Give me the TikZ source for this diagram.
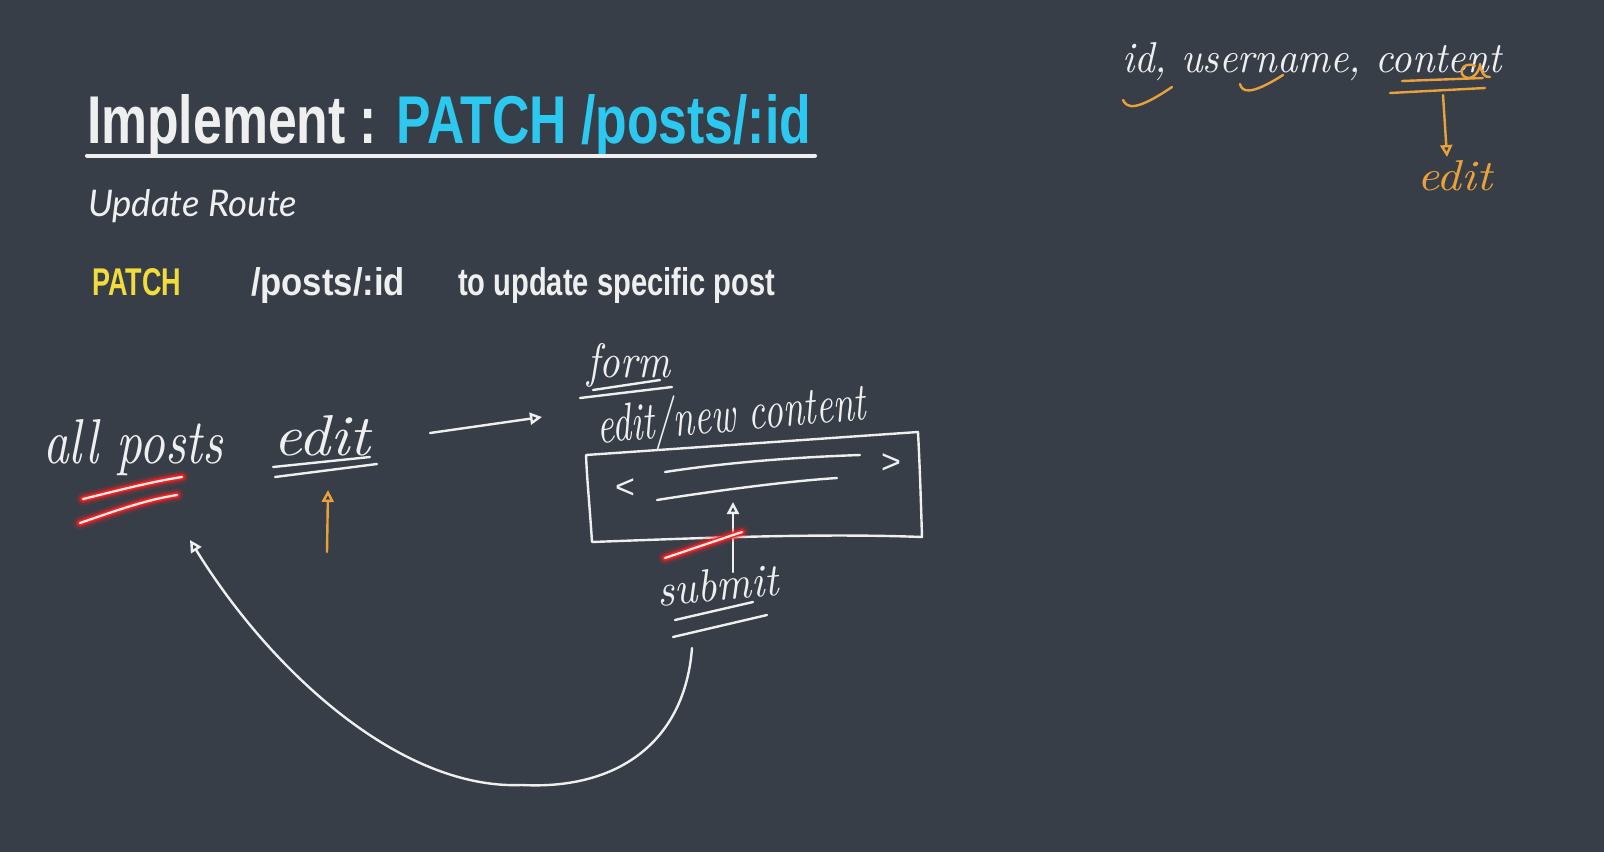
\documentclass[tikz,border=0pt]{standalone}
\usepackage{fontspec}
\usepackage{graphicx}
\usetikzlibrary{arrows.meta}

\newfontfamily\headfont{Liberation Sans}
\newfontfamily\subfont{Lato}

\definecolor{slate}{HTML}{373E48}
\definecolor{chalk}{HTML}{EFEFEF}
\definecolor{titlecyan}{HTML}{2CC8F0}
\definecolor{verbyellow}{HTML}{F2DC3C}
\definecolor{penorange}{HTML}{E9A23B}
\definecolor{glowred}{HTML}{FF1E1E}

% scale a piece of text to an exact width and height (in pt)
\newcommand{\fitbox}[3]{\resizebox{#1pt}{#2pt}{#3}}

% red highlighter stroke: soft red halo with a white core
\newcommand{\glowstroke}[1]{%
  \draw[glowred, line width=13pt, opacity=0.18, line cap=round] #1;
  \draw[glowred, line width=8pt, opacity=0.45, line cap=round] #1;
  \draw[glowred, line width=5pt, line cap=round] #1;
  \draw[chalk, line width=2.2pt, line cap=round] #1;}

\begin{document}
\begin{tikzpicture}[x=1pt, y=-1pt,
  pen/.style={draw=chalk, line width=2.4pt, line cap=round, line join=round},
  orangepen/.style={pen, draw=penorange},
  opentip/.style={-{Triangle[open, length=12pt, width=12pt]}},
  hand/.style={inner sep=0pt, outer sep=0pt, anchor=base west, text=chalk, font=\itshape},
  typed/.style={inner sep=0pt, outer sep=0pt, anchor=base west, text=chalk},
  chevron/.style={inner sep=0pt, outer sep=0pt, text=chalk, font=\headfont\fontsize{34}{34}\selectfont}]

% canvas
\fill[slate] (0,0) rectangle (1604,852);
\useasboundingbox (0,0) rectangle (1604,852);

% ---------- heading ----------
\node[typed, font=\headfont\bfseries] (title) at (87,143)
  {\fitbox{724}{49}{Implement : \textcolor{titlecyan}{PATCH /posts/:id}}};
\draw[chalk, line width=4pt, line cap=round] (87,155.5) -- (815,155.5);

\node[typed, font=\subfont\itshape] (subtitle) at (88,216)
  {\fitbox{209}{27}{Update Route}};

\node[typed, font=\headfont\bfseries, text=verbyellow] (verb) at (92,295)
  {\fitbox{89}{27}{PATCH}};
\node[typed, font=\headfont\bfseries] (route) at (251,295)
  {\fitbox{154}{28}{/posts/:id}};
\node[typed, font=\headfont\bfseries] (purpose) at (458,295)
  {\fitbox{317}{28}{to update specific post}};

% ---------- sketch: page flow ----------
\node[hand] (allposts) at (43,463) {\fitbox{180}{44}{all posts}};
\glowstroke{(83,499) .. controls (120,490) and (150,482) .. (182,477)}
\glowstroke{(80,523) .. controls (115,511) and (145,500) .. (177,495)}

\node[hand] (edit) at (273,455) {\fitbox{97}{40}{edit}};
\draw[pen] (273,467) -- (370,457);
\draw[pen] (275,477) -- (377,464);

\coordinate (editpoke) at (327,552);
\coordinate (editmark) at (328,490);
\draw[orangepen, opentip] (editpoke) -- (editmark);

\coordinate (goform) at (430,433);
\coordinate (atform) at (542,417);
\draw[pen, opentip] (goform) -- (atform);

% form sketch
\node[hand] (formlabel) at (587,377) {\fitbox{83}{34}{form}};
\draw[pen] (593,390) -- (660,380);
\draw[pen] (580,398) -- (672,387);

\node[hand, rotate=5] (fieldlabel) at (598,443) {\fitbox{270}{40}{edit/new content}};

\coordinate (tl) at (586,455);
\coordinate (tr) at (918,432);
\coordinate (br) at (922,537);
\coordinate (bl) at (592,542);
\draw[pen] (tl) -- (tr) .. controls (920,470) and (921,505) .. (br)
  .. controls (820,533) and (700,538) .. (bl) .. controls (590,510) and (587,480) .. cycle;

\node[chevron] (lt) at (625,489) {<};
\node[chevron] (gt) at (891,464) {>};
\draw[pen] (665,472) .. controls (730,462) and (800,457) .. (860,455);
\draw[pen] (657,500) .. controls (720,490) and (790,481) .. (837,478);

\node[hand, rotate=5] (submit) at (658,606) {\fitbox{122}{32}{submit}};
\draw[pen] (675,620) -- (753,602);
\draw[pen] (673,637) -- (767,615);

\coordinate (submitfoot) at (733,572);
\coordinate (fieldtop) at (733,502);
\draw[pen, opentip] (submitfoot) -- (fieldtop);
\glowstroke{(665,558) -- (742,532)}

% redirect back to the list
\coordinate (redirect) at (692,648);
\coordinate (backhome) at (190,540);
\draw[pen, opentip] (redirect) .. controls (685,740) and (620,790) .. (522,785)
  .. controls (400,790) and (270,670) .. (backhome);

% ---------- sketch: post fields ----------
\node[hand] (fields) at (1122,72) {\fitbox{380}{30}{id, username, content}};
\draw[orangepen] (1123,100) .. controls (1127,108) and (1135,112) .. (1172,87);
\draw[orangepen] (1240,84) .. controls (1242,92) and (1250,96) .. (1283,75);
\draw[orangepen] (1475,66) .. controls (1462,60) and (1456,76) .. (1468,78)
  .. controls (1476,78) and (1480,68) .. (1480,64) .. controls (1481,72) and (1484,78) .. (1490,77);
\draw[orangepen] (1402,81) -- (1483,78);
\draw[orangepen] (1390,93) -- (1485,88);

\coordinate (contentmark) at (1443,95);
\coordinate (editspot) at (1447,157);
\draw[orangepen, opentip] (contentmark) -- (editspot);
\node[hand, text=penorange] (editnote) at (1417,190) {\fitbox{75}{30}{edit}};

\end{tikzpicture}
\end{document}
